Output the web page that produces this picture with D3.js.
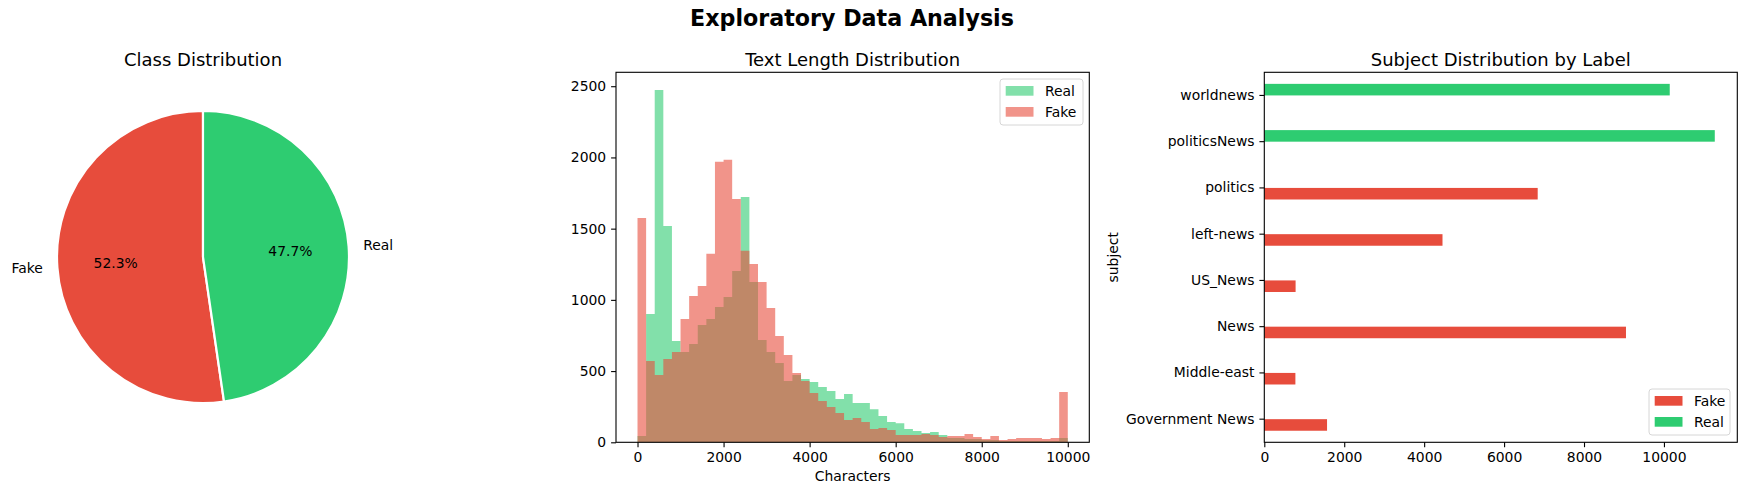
<!DOCTYPE html>
<html>
<head>
<meta charset="utf-8">
<script src="https://d3js.org/d3.v7.min.js"></script>
<style>
  body { margin: 0; background: #fff; }
  svg { font-family: "DejaVu Sans", sans-serif; }
  .tick text { font-family: "DejaVu Sans", sans-serif; font-size: 13.9px; fill: #000; }
  .tick line { stroke: #000; stroke-width: 1.1px; }
  .domain { display: none; }
  .title { font-size: 18px; text-anchor: middle; }
</style>
</head>
<body>
<svg id="fig" width="1747" height="495"></svg>
<script>
// --- data ---
const classLabels = ["Fake", "Real"];
const classCounts = [23481, 21417];
const classColors = ["#e74c3c", "#2ecc71"];

// text length histogram, 50 bins of 200 characters from 0 to 10000
const binEdges = d3.range(0, 10001, 200);
const realCounts = [45, 901, 2474, 1519, 712, 634, 690, 824, 866, 950,
  1021, 1203, 1723, 1126, 719, 634, 557, 431, 473, 445,
  424, 389, 360, 304, 339, 276, 276, 232, 185, 143,
  133, 94, 80, 66, 73, 51, 30, 30, 23, 23,
  16, 16, 9, 9, 9, 9, 9, 9, 9, 30];
const fakeCounts = [1575, 571, 473, 585, 634, 866, 1028, 1098, 1323, 1969,
  1983, 1709, 1344, 1252, 1126, 943, 747, 613, 487, 431,
  346, 290, 248, 206, 157, 171, 143, 94, 101, 87,
  51, 51, 51, 59, 51, 37, 44, 44, 59, 37,
  23, 44, 16, 23, 30, 30, 30, 23, 30, 353];

// subjects, top to bottom as drawn
const subjects = ["worldnews", "politicsNews", "politics", "left-news",
  "US_News", "News", "Middle-east", "Government News"];
const subjectFake = [0, 0, 6841, 4459, 783, 9050, 778, 1570];
const subjectReal = [10145, 11272, 0, 0, 0, 0, 0, 0];

const svg = d3.select("#fig");
const fmt = d3.format("d");

// suptitle
svg.append("text")
  .attr("x", 852).attr("y", 26)
  .attr("text-anchor", "middle")
  .style("font-size", "22.2px").style("font-weight", "bold")
  .text("Exploratory Data Analysis");

// ---------- 1. pie ----------
const cx = 203, cy = 257, r = 146;
const pieG = svg.append("g").attr("transform", `translate(${cx},${cy})`);
const pie = d3.pie().sort(null).startAngle(0).endAngle(-2 * Math.PI);
const slices = pie(classCounts);
const total = d3.sum(classCounts);

pieG.selectAll("path.wedge").data(slices)
  .join("path")
  .attr("class", "wedge")
  .attr("fill", (d, i) => classColors[i])
  .attr("stroke", "white")
  .attr("stroke-width", 2.2)
  .attr("stroke-linejoin", "round")
  .attr("d", d3.arc().innerRadius(0).outerRadius(r));

const labelArc = d3.arc().innerRadius(r * 1.1).outerRadius(r * 1.1);
const pctArc = d3.arc().innerRadius(r * 0.6).outerRadius(r * 0.6);

pieG.selectAll("text.lbl").data(slices)
  .join("text")
  .attr("class", "lbl")
  .attr("x", d => labelArc.centroid(d)[0])
  .attr("y", d => labelArc.centroid(d)[1])
  .attr("dy", "0.35em")
  .attr("text-anchor", d => labelArc.centroid(d)[0] < 0 ? "end" : "start")
  .style("font-size", "13.9px")
  .text((d, i) => classLabels[i]);

pieG.selectAll("text.pct").data(slices)
  .join("text")
  .attr("class", "pct")
  .attr("x", d => pctArc.centroid(d)[0])
  .attr("y", d => pctArc.centroid(d)[1])
  .attr("dy", "0.35em")
  .attr("text-anchor", "middle")
  .style("font-size", "13.9px")
  .text(d => d3.format(".1%")(d.value / total));

svg.append("text").attr("class", "title")
  .attr("x", cx).attr("y", 66).text("Class Distribution");

// ---------- 2. histogram ----------
const hL = 616, hR = 1089.3, axTop = 72.3, axBot = 442.3;
const hx = d3.scaleLinear().domain([-500, 10500]).range([hL, hR]);
const hy = d3.scaleLinear()
  .domain([0, d3.max(realCounts.concat(fakeCounts)) * 1.05])
  .range([axBot, axTop]);

const stepArea = d3.area()
  .curve(d3.curveStepAfter)
  .x(d => hx(d[0]))
  .y0(hy(0))
  .y1(d => hy(d[1]));

function histPoints(counts) {
  return binEdges.map((e, i) => [e, counts[Math.min(i, counts.length - 1)]]);
}

const hist = svg.append("g");
hist.append("path").datum(histPoints(realCounts))
  .attr("fill", "#2ecc71").attr("fill-opacity", 0.6)
  .attr("d", stepArea);
hist.append("path").datum(histPoints(fakeCounts))
  .attr("fill", "#e74c3c").attr("fill-opacity", 0.6)
  .attr("d", stepArea);

svg.append("g").attr("transform", `translate(0,${axBot})`)
  .call(d3.axisBottom(hx).tickValues([0, 2000, 4000, 6000, 8000, 10000])
    .tickSize(4.9).tickPadding(4.9).tickFormat(fmt));
svg.append("g").attr("transform", `translate(${hL},0)`)
  .call(d3.axisLeft(hy).tickValues([0, 500, 1000, 1500, 2000, 2500])
    .tickSize(4.9).tickPadding(4.9).tickFormat(fmt));

svg.append("rect")
  .attr("x", hL).attr("y", axTop).attr("width", hR - hL).attr("height", axBot - axTop)
  .attr("fill", "none").attr("stroke", "#000").attr("stroke-width", 1.1);

svg.append("text").attr("class", "title")
  .attr("x", (hL + hR) / 2).attr("y", 66).text("Text Length Distribution");
svg.append("text")
  .attr("x", (hL + hR) / 2).attr("y", 481)
  .attr("text-anchor", "middle").style("font-size", "13.9px")
  .text("Characters");

// legend
function legend(x, y, w, items) {
  const g = svg.append("g").attr("transform", `translate(${x},${y})`);
  g.append("rect")
    .attr("width", w).attr("height", 46).attr("rx", 3)
    .attr("fill", "white").attr("fill-opacity", 0.8)
    .attr("stroke", "#d6d6d6").attr("stroke-width", 1);
  items.forEach((it, i) => {
    g.append("rect")
      .attr("x", 5.7).attr("y", 7 + i * 21)
      .attr("width", 27.8).attr("height", 9.7)
      .attr("fill", it.color).attr("fill-opacity", it.alpha);
    g.append("text")
      .attr("x", 45).attr("y", 12 + i * 21).attr("dy", "0.35em")
      .style("font-size", "13.9px").text(it.label);
  });
}
legend(1000, 79, 83, [
  { label: "Real", color: "#2ecc71", alpha: 0.6 },
  { label: "Fake", color: "#e74c3c", alpha: 0.6 }
]);

// ---------- 3. horizontal grouped bars ----------
const bL = 1264.3, bR = 1737.3;
const bx = d3.scaleLinear()
  .domain([0, d3.max(subjectFake.concat(subjectReal)) * 1.05])
  .range([bL, bR]);
const by = d3.scaleBand().domain(subjects).range([axTop, axBot]);
const bw = by.bandwidth();
const mid = s => by(s) + bw / 2;

const bars = svg.append("g");
bars.selectAll("rect.fake").data(subjects)
  .join("rect").attr("class", "fake")
  .attr("x", bx(0))
  .attr("y", d => mid(d))
  .attr("width", (d, i) => bx(subjectFake[i]) - bx(0))
  .attr("height", bw * 0.25)
  .attr("fill", "#e74c3c");
bars.selectAll("rect.real").data(subjects)
  .join("rect").attr("class", "real")
  .attr("x", bx(0))
  .attr("y", d => mid(d) - bw * 0.25)
  .attr("width", (d, i) => bx(subjectReal[i]) - bx(0))
  .attr("height", bw * 0.25)
  .attr("fill", "#2ecc71");

svg.append("g").attr("transform", `translate(0,${axBot})`)
  .call(d3.axisBottom(bx).tickValues([0, 2000, 4000, 6000, 8000, 10000])
    .tickSize(4.9).tickPadding(4.9).tickFormat(fmt));
svg.append("g").attr("transform", `translate(${bL},0)`)
  .call(d3.axisLeft(by).tickSize(4.9).tickPadding(4.9));

svg.append("rect")
  .attr("x", bL).attr("y", axTop).attr("width", bR - bL).attr("height", axBot - axTop)
  .attr("fill", "none").attr("stroke", "#000").attr("stroke-width", 1.1);

svg.append("text").attr("class", "title")
  .attr("x", (bL + bR) / 2).attr("y", 66).text("Subject Distribution by Label");
svg.append("text")
  .attr("transform", `translate(1118,${(axTop + axBot) / 2}) rotate(-90)`)
  .attr("text-anchor", "middle").style("font-size", "13.9px")
  .text("subject");

legend(1649, 389, 81, [
  { label: "Fake", color: "#e74c3c", alpha: 1 },
  { label: "Real", color: "#2ecc71", alpha: 1 }
]);
</script>
</body>
</html>
